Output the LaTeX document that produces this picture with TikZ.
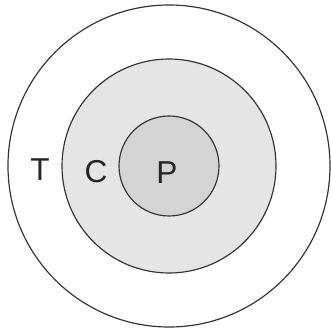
\documentclass[tikz,border=0pt]{standalone}
\usepackage{fontspec}
\setmainfont{Liberation Sans}
\usetikzlibrary{positioning}

\begin{document}
\begin{tikzpicture}
    [
        x=0.03cm, y=0.03cm,
        ring/.style={draw=black!80, circle, line width=1pt, inner sep=0pt},
        letter/.style={font=\fontsize{27}{30}\selectfont, text=black!85, inner sep=0pt}
    ]
        % =========================================================================
        % FRAME
        % =========================================================================
        \useasboundingbox (0,0) rectangle (331,331);
        \coordinate (mid) at (169,165);

        % =========================================================================
        % RINGS
        % =========================================================================
        \node [ring, fill=white, minimum size=9.66cm] (outer) at (mid) {};
        \node [ring, fill=black!10, minimum size=6.42cm] (middle) at (mid) {};
        \node [ring, fill=black!17, minimum size=3.0cm] (inner) at (mid) {};

        % =========================================================================
        % LABELS
        % =========================================================================
        \node [letter] (T) at (40,161) {T};
        \node [letter] (C) at (96,159) {C};
        \node [letter] (P) at (167,158) {P};

    \end{tikzpicture}
\end{document}
